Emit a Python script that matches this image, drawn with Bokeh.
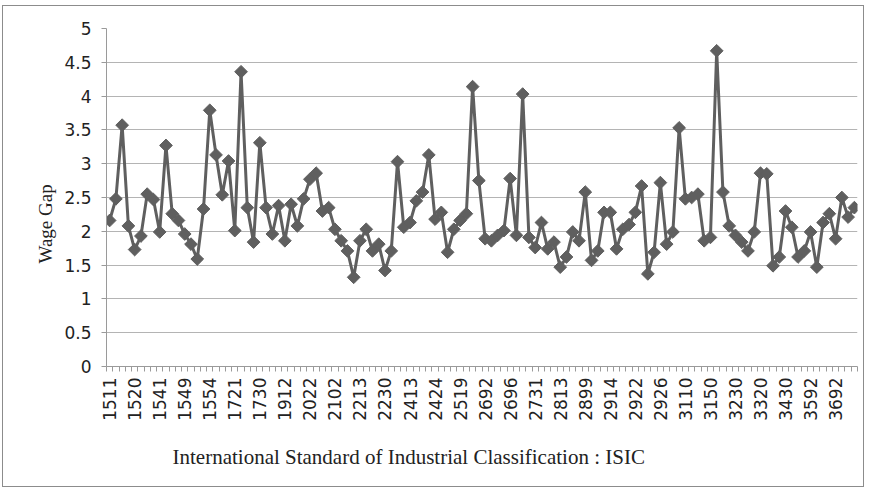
import numpy as np
from bokeh.plotting import figure
from bokeh.models import ColumnDataSource, FixedTicker, Range1d, Title
from bokeh.embed import file_html
from bokeh.resources import INLINE

# ISIC categories (4-digit codes)
isic_codes = [
    "1511", "1512", "1513", "1514", "1520", "1531", "1532", "1533", "1541", "1542",
    "1543", "1544", "1549", "1551", "1552", "1553", "1554", "1600", "1711", "1712",
    "1721", "1722", "1723", "1729", "1730", "1810", "1820", "1911", "1912", "1920",
    "2010", "2021", "2022", "2023", "2029", "2101", "2102", "2109", "2211", "2212",
    "2213", "2219", "2221", "2222", "2230", "2320", "2411", "2412", "2413", "2421",
    "2422", "2423", "2424", "2429", "2430", "2511", "2519", "2520", "2610", "2691",
    "2692", "2693", "2694", "2695", "2696", "2699", "2710", "2720", "2731", "2732",
    "2811", "2812", "2813", "2891", "2892", "2893", "2899", "2911", "2912", "2913",
    "2914", "2915", "2919", "2921", "2922", "2923", "2924", "2925", "2926", "2927",
    "2929", "2930", "3110", "3120", "3130", "3140", "3150", "3190", "3210", "3220",
    "3230", "3311", "3312", "3313", "3320", "3330", "3410", "3420", "3430", "3511",
    "3520", "3591", "3592", "3599", "3610", "3691", "3692", "3693", "3694", "3699",
]

# Wage gap values
wage_gap = [
    2.16, 2.48, 3.57, 2.08, 1.73, 1.93, 2.55, 2.47, 1.99, 3.27,
    2.26, 2.16, 1.96, 1.81, 1.59, 2.33, 3.79, 3.13, 2.54, 3.04,
    2.01, 4.36, 2.35, 1.84, 3.31, 2.35, 1.96, 2.38, 1.86, 2.40,
    2.08, 2.48, 2.77, 2.86, 2.30, 2.35, 2.03, 1.86, 1.71, 1.32,
    1.86, 2.03, 1.71, 1.81, 1.42, 1.71, 3.03, 2.06, 2.13, 2.45,
    2.58, 3.13, 2.18, 2.28, 1.69, 2.03, 2.16, 2.26, 4.14, 2.75,
    1.89, 1.86, 1.94, 2.01, 2.78, 1.94, 4.03, 1.91, 1.76, 2.13,
    1.74, 1.84, 1.47, 1.62, 1.99, 1.86, 2.58, 1.57, 1.71, 2.28,
    2.28, 1.74, 2.03, 2.10, 2.28, 2.67, 1.37, 1.69, 2.72, 1.81,
    1.99, 3.53, 2.48, 2.50, 2.55, 1.86, 1.91, 4.67, 2.58, 2.08,
    1.94, 1.84, 1.71, 1.99, 2.86, 2.85, 1.49, 1.62, 2.30, 2.06,
    1.62, 1.71, 1.99, 1.47, 2.13, 2.26, 1.89, 2.50, 2.21, 2.35,
]

y_ticks = [0, 0.5, 1, 1.5, 2, 2.5, 3, 3.5, 4, 4.5, 5]
y_tick_labels = ["0", "0.5", "1", "1.5", "2", "2.5", "3", "3.5", "4", "4.5", "5"]
label_every = 4
x_title = "International Standard of Industrial Classification : ISIC"
y_title = "Wage Gap"

n = len(isic_codes)
xpos = [i + 0.5 for i in range(n)]
src = ColumnDataSource(dict(x=xpos, y=wage_gap, code=isic_codes))

p = figure(width=862, height=482, output_backend="svg", toolbar_location=None,
           x_range=Range1d(0, n), y_range=Range1d(0, 5),
           min_border_left=103, min_border_right=8, min_border_top=22,
           min_border_bottom=121)
p.styles = {"border": "1px solid #8c8c8c", "margin-left": "2px", "margin-top": "5px"}
p.outline_line_color = None
p.background_fill_color = "white"
p.border_fill_color = "white"

line_col = "#5f5f5f"
p.line("x", "y", source=src, line_color=line_col, line_width=3)
p.scatter("x", "y", source=src, marker="square", angle=np.pi / 4, size=9,
          fill_color=line_col, line_color=line_col)

# x axis
label_pos = [xpos[i] for i in range(0, n, label_every)]
p.xaxis.ticker = FixedTicker(ticks=label_pos, minor_ticks=list(range(n + 1)))
p.xaxis.major_label_overrides = {xpos[i]: isic_codes[i] for i in range(0, n, label_every)}
p.xaxis.major_label_orientation = np.pi / 2
p.xaxis.major_tick_out = 0
p.xaxis.major_tick_in = 0
p.xaxis.minor_tick_out = 5
p.xaxis.minor_tick_in = 0
p.xaxis.minor_tick_line_color = "#9a9a9a"
p.xaxis.axis_line_color = "#9a9a9a"
p.xaxis.major_label_standoff = 6
p.xaxis.major_label_text_font = "DejaVu Sans"
p.xaxis.major_label_text_font_size = "17px"
p.xaxis.major_label_text_color = "#222222"

# y axis
p.yaxis.ticker = FixedTicker(ticks=y_ticks)
p.yaxis.major_label_overrides = {t: l for t, l in zip(y_ticks, y_tick_labels)}
p.yaxis.major_tick_out = 5
p.yaxis.major_tick_in = 0
p.yaxis.minor_tick_out = 0
p.yaxis.minor_tick_in = 0
p.yaxis.major_tick_line_color = "#9a9a9a"
p.yaxis.axis_line_color = "#9a9a9a"
p.yaxis.major_label_standoff = 10
p.yaxis.major_label_text_font = "DejaVu Sans"
p.yaxis.major_label_text_font_size = "17px"
p.yaxis.major_label_text_color = "#222222"

# axis titles
xt = Title(text=x_title, align="left", offset=66, standoff=39,
           text_font="Liberation Serif", text_font_style="normal",
           text_font_size="21px", text_color="#222222")
p.add_layout(xt, "below")
yt = Title(text=y_title, align="left", offset=103, standoff=12,
           text_font="Liberation Serif", text_font_style="normal",
           text_font_size="19px", text_color="#222222")
p.add_layout(yt, "left")

p.xgrid.grid_line_color = None
p.ygrid.ticker = FixedTicker(ticks=y_ticks[1:])
p.ygrid.grid_line_color = "#b4b4b4"
p.ygrid.grid_line_width = 1

open("out.html", "w").write(file_html(p, INLINE))
